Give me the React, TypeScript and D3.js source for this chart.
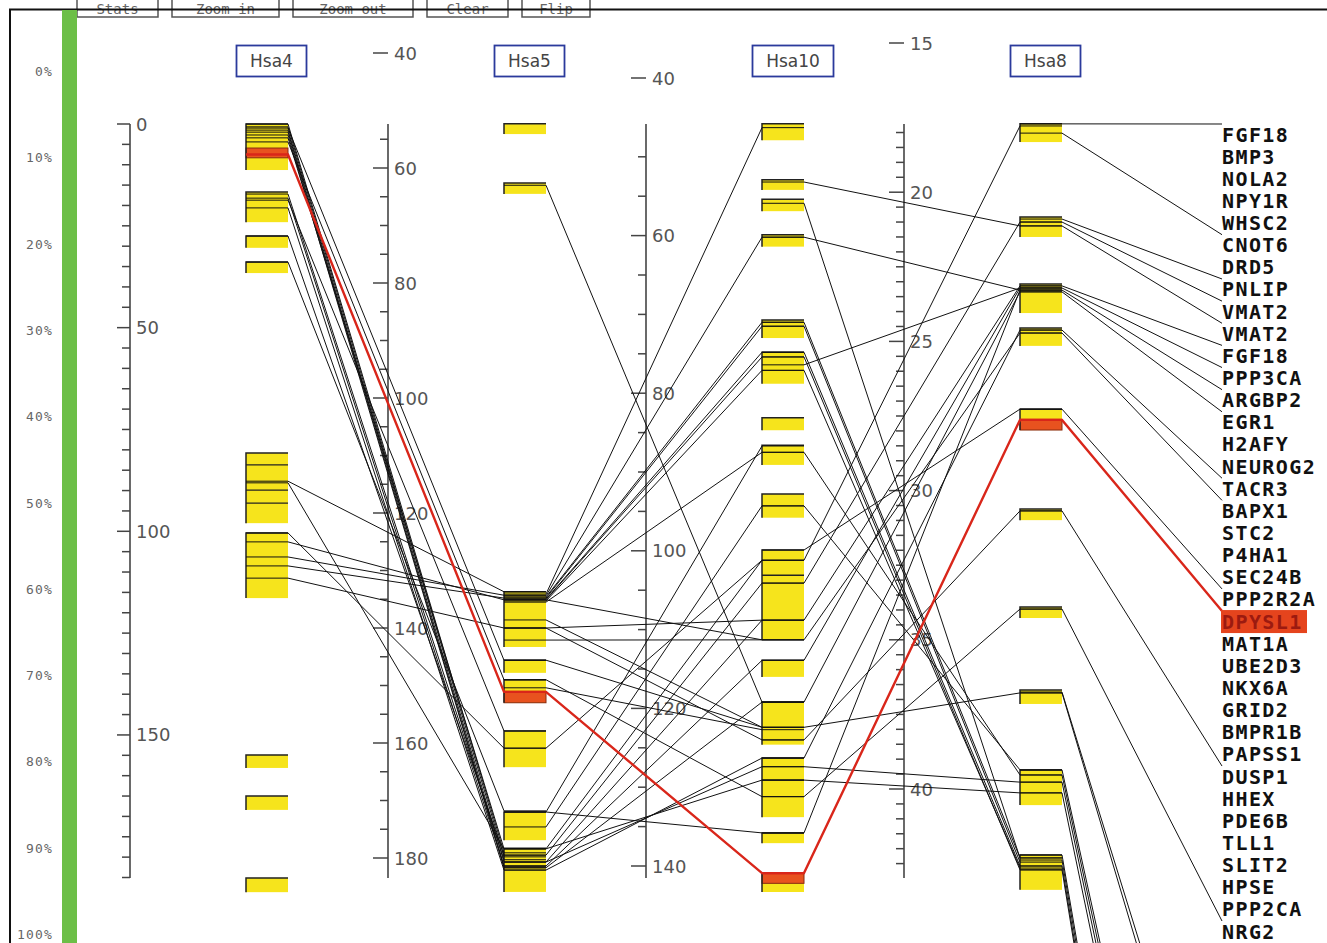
import React from "react";
import * as d3 from "d3";

// chromosomes shown left to right
const chromosomes = ["Hsa4", "Hsa5", "Hsa10", "Hsa8"];

// conserved segments on each chromosome (Mb, start-end)
const hsa4Blocks = [[0, 11.3], [16.7, 24.1], [27.5, 30.4], [33.9, 36.6], [80.8, 98.0], [100.4, 116.4], [154.9, 158.1], [165.0, 168.4], [185.1, 188.6]];
const hsa5Blocks = [[52.3, 54.1], [62.6, 64.5], [133.7, 143.3], [145.6, 147.8], [149.0, 153.0], [157.9, 164.2], [172.0, 176.9], [178.3, 185.9]];
const hsa10Blocks = [[45.8, 47.9], [52.9, 54.2], [55.4, 56.9], [59.9, 61.4], [70.7, 73.0], [74.8, 78.8], [83.1, 84.7], [86.6, 89.1], [92.8, 95.8], [99.9, 111.3], [113.9, 116.0], [119.2, 124.6], [126.3, 133.8], [135.8, 137.1], [140.9, 143.3]];
const hsa8Blocks = [[17.71, 18.32], [20.83, 21.5], [23.08, 24.05], [24.55, 25.15], [27.27, 27.97], [30.62, 30.99], [33.9, 34.27], [36.68, 37.15], [39.36, 40.54], [42.21, 43.38]];

// selected segment (DPYSL1) on each chromosome
const selectedBlocks = [[5.9, 8.3], [151.1, 153.0], [140.9, 142.2], [27.63, 27.97]];

// gene marks without visible links
const hsa4Marks = [83.7, 89.9, 93.1];
const hsa10Marks = [103.1, 129.1];

// orthologue links between neighbouring chromosomes (Mb -> Mb)
const links4to5 = [
  [0.0, 179.1], [0.7, 179.8], [1.0, 145.6], [1.5, 180.7], [2.0, 181.4], [2.7, 181.7],
  [3.4, 178.4], [4.4, 149.0], [17.2, 180.3], [18.2, 181.4], [18.7, 157.9], [20.6, 182.1],
  [27.5, 179.5], [33.9, 171.8], [87.7, 133.7], [88.1, 178.4], [100.4, 160.9],
  [102.6, 135.1], [106.3, 134.3], [108.5, 134.8], [111.5, 140.0],
];
const links5to10 = [
  [134.1, 46.3], [134.4, 60.2], [134.6, 71.0], [134.8, 71.5], [135.0, 74.8], [135.1, 75.4],
  [135.3, 77.1], [135.5, 87.5], [172.0, 86.7], [174.6, 94.3], [178.4, 101.2], [179.5, 104.1],
  [180.7, 108.8], [181.4, 113.9], [181.7, 119.2], [182.1, 126.3], [180.7, 127.4],
  [178.4, 129.1], [63.0, 119.2], [138.6, 122.4], [140.0, 124.0], [135.1, 111.3],
  [140.0, 108.8], [142.1, 111.3], [150.4, 122.7], [160.9, 101.2], [172.0, 135.8],
  [145.6, 122.4], [149.0, 131.2],
];
const links10to8 = [
  [53.2, 21.13], [55.9, 42.31], [60.2, 23.28], [71.0, 42.31], [71.5, 42.45], [74.8, 42.58],
  [75.4, 42.71], [76.4, 23.21], [77.1, 42.65], [87.5, 39.53], [94.3, 39.36], [101.2, 17.78],
  [104.1, 21.0], [108.8, 23.14], [113.9, 23.21], [119.2, 23.34], [122.4, 36.78],
  [127.4, 39.77], [129.1, 40.13], [126.3, 24.62], [111.3, 24.72], [99.9, 27.27],
  [124.0, 30.68], [131.2, 33.97], [135.8, 23.28],
];
// Hsa8 position -> gene label row (rows past 36 are below the visible area)
const links8toGene = [
  [17.71, 0], [18.02, 5], [20.9, 7], [21.0, 8], [21.13, 9], [23.14, 10], [23.21, 11],
  [23.28, 12], [23.34, 13], [24.62, 16], [24.72, 17], [27.27, 21], [30.68, 29], [33.97, 36],
  [36.75, 49], [36.78, 50], [39.36, 62], [39.53, 63], [39.77, 64], [40.13, 65],
  [42.21, 75], [42.38, 76], [42.58, 77], [42.71, 78],
];

// the highlighted gene path across all four chromosomes
const selectedPath = [7.5, 151.1, 140.9, 27.63];
const selectedRow = 22;

const geneNames = [
  "FGF18", "BMP3", "NOLA2", "NPY1R", "WHSC2", "CNOT6", "DRD5", "PNLIP", "VMAT2", "VMAT2",
  "FGF18", "PPP3CA", "ARGBP2", "EGR1", "H2AFY", "NEUROG2", "TACR3", "BAPX1", "STC2",
  "P4HA1", "SEC24B", "PPP2R2A", "DPYSL1", "MAT1A", "UBE2D3", "NKX6A", "GRID2", "BMPR1B",
  "PAPSS1", "DUSP1", "HHEX", "PDE6B", "TLL1", "SLIT2", "HPSE", "PPP2CA", "NRG2",
];

const percentTicks = [0, 10, 20, 30, 40, 50, 60, 70, 80, 90, 100];
const buttons = ["Stats", "Zoom in", "Zoom out", "Clear", "Flip"];

// axis settings per chromosome: minor step, labelled step, first / last tick
const axisSpecs = [
  { step: 5, major: 50, from: 0, to: 185 },
  { step: 5, major: 20, from: 40, to: 180 },
  { step: 5, major: 20, from: 40, to: 140 },
  { step: 0.5, major: 5, from: 15, to: 42.5 },
];

const W = 1327;
const H = 943;
const BLOCK_OFF = 116;
const BLOCK_W = 42;
const AXIS_TOP = 124;
const AXIS_BOTTOM = 878;
const LABEL_X = 1222;

const colX = d3.scaleLinear().domain([0, 3]).range([130, 904]);
const yScales = [
  d3.scaleLinear().domain([0, 185]).range([124, 877.5]),
  d3.scaleLinear().domain([40, 180]).range([53, 858]),
  d3.scaleLinear().domain([40, 140]).range([78, 866]),
  d3.scaleLinear().domain([15, 40]).range([43, 789]),
];
const rowY = d3.scaleLinear().domain([0, 36]).range([124, 921]);
const pctY = d3.scaleLinear().domain([0, 100]).range([71, 934]);

const blockSets = [hsa4Blocks, hsa5Blocks, hsa10Blocks, hsa8Blocks];
const markSets = [hsa4Marks, [], hsa10Marks, []];
const linkSets = [links4to5, links5to10, links10to8];

const bx = (c: number) => colX(c) + BLOCK_OFF;

const round = (v: number) => Math.round(v * 1000) / 1000;

function linkPath(c: number, a: number, b: number) {
  const y1 = yScales[c](a);
  const y2 = yScales[c + 1](b);
  const p = d3.path();
  p.moveTo(bx(c), y1);
  p.lineTo(bx(c) + BLOCK_W, y1);
  p.lineTo(bx(c + 1), y2);
  p.lineTo(bx(c + 1) + BLOCK_W, y2);
  return p.toString();
}

function genePath(a: number, row: number) {
  const y1 = yScales[3](a);
  const p = d3.path();
  p.moveTo(bx(3), y1);
  p.lineTo(bx(3) + BLOCK_W, y1);
  p.lineTo(LABEL_X, rowY(row));
  return p.toString();
}

function Axis({ c }: { c: number }) {
  const spec = axisSpecs[c];
  const y = yScales[c];
  const x = colX(c);
  const ticks = d3.range(spec.from, spec.to + spec.step / 2, spec.step).map(round);
  return (
    <g>
      <line x1={x} x2={x} y1={AXIS_TOP} y2={AXIS_BOTTOM} stroke="#444" strokeWidth={1.6} />
      {ticks.map((t) => {
        const isMajor = Math.abs(t / spec.major - Math.round(t / spec.major)) < 1e-6;
        const ty = y(t);
        if (!isMajor && (ty < AXIS_TOP - 1 || ty > AXIS_BOTTOM + 1)) return null;
        const len = isMajor ? (c === 0 ? 13 : 15) : 8;
        return (
          <g key={t}>
            <line x1={x - len} x2={x} y1={ty} y2={ty} stroke="#444" strokeWidth={1.5} />
            {isMajor && (
              <text x={x + 6} y={ty + 6.5} fontSize={18} fill="#555" fontFamily="DejaVu Sans">
                {t}
              </text>
            )}
          </g>
        );
      })}
    </g>
  );
}

export default function App() {
  let bxAcc = 77;
  const buttonRects = buttons.map((b) => {
    const w = b.length * 13 + 16;
    const r = { label: b, x: bxAcc, w };
    bxAcc += w + 14;
    return r;
  });

  return (
    <svg width={W} height={H} style={{ position: "absolute", left: 0, top: 0, background: "#fff" }}>
      {/* toolbar along the top edge */}
      {buttonRects.map((b) => (
        <g key={b.label}>
          <rect x={b.x} y={-12} width={b.w} height={29} fill="#fff" stroke="#555" strokeWidth={1.5} />
          <text x={b.x + b.w / 2} y={14} textAnchor="middle" fontSize={14} fill="#666" fontFamily="DejaVu Sans Mono">
            {b.label}
          </text>
        </g>
      ))}
      <path d={`M10,${H} V9.5 H${W}`} fill="none" stroke="#111" strokeWidth={2} />
      <rect x={62} y={10} width={15} height={H - 10} fill="#6cbf47" />

      {percentTicks.map((p) => (
        <text key={p} x={53} y={pctY(p) + 5} textAnchor="end" fontSize={13} letterSpacing={1.2} fill="#666" fontFamily="DejaVu Sans Mono">
          {p}%
        </text>
      ))}

      {chromosomes.map((_, c) => <Axis key={c} c={c} />)}

      {chromosomes.map((name, c) => {
        const w = 26 + name.length * 11;
        const x0 = bx(c) - 9.5;
        return (
          <g key={name}>
            <rect x={x0} y={45.5} width={w} height={31} fill="#fff" stroke="#2b3a9c" strokeWidth={1.8} />
            <text x={x0 + w / 2} y={67} textAnchor="middle" fontSize={17} fill="#444" fontFamily="DejaVu Sans">
              {name}
            </text>
          </g>
        );
      })}

      {/* segments */}
      {blockSets.map((blocks, c) =>
        blocks.map(([s, e], i) => (
          <rect key={`b${c}-${i}`} x={bx(c)} y={yScales[c](s)} width={BLOCK_W} height={yScales[c](e) - yScales[c](s)} fill="#f6e41c" />
        ))
      )}
      {selectedBlocks.map(([s, e], c) => (
        <rect key={`s${c}`} x={bx(c)} y={yScales[c](s)} width={BLOCK_W} height={yScales[c](e) - yScales[c](s)} fill="#e8521f" stroke="#8a2c10" strokeWidth={1} />
      ))}
      {blockSets.map((blocks, c) =>
        blocks.map(([s, e], i) => (
          <path
            key={`e${c}-${i}`}
            d={`M${bx(c)},${yScales[c](e)} V${yScales[c](s)} H${bx(c) + BLOCK_W}`}
            fill="none"
            stroke="#222"
            strokeWidth={1.5}
          />
        ))
      )}
      {markSets.map((marks, c) =>
        marks.map((m) => (
          <line key={`m${c}-${m}`} x1={bx(c)} x2={bx(c) + BLOCK_W} y1={yScales[c](m)} y2={yScales[c](m)} stroke="#222" strokeWidth={1.3} />
        ))
      )}

      {/* links */}
      <g fill="none" stroke="#111" strokeWidth={1}>
        {linkSets.map((links, c) =>
          links.map(([a, b], i) => <path key={`l${c}-${i}`} d={linkPath(c, a, b)} />)
        )}
        {links8toGene.map(([a, r], i) => (
          <path key={`g${i}`} d={genePath(a, r)} />
        ))}
      </g>

      {/* selected gene */}
      <g fill="none" stroke="#d9261a" strokeWidth={2.4}>
        {[0, 1, 2].map((c) => (
          <path key={c} d={linkPath(c, selectedPath[c], selectedPath[c + 1])} />
        ))}
        <path d={genePath(selectedPath[3], selectedRow)} />
      </g>

      {/* gene labels */}
      <rect x={LABEL_X - 1} y={rowY(selectedRow) - 1} width={86} height={23} fill="#e5441d" />
      {geneNames.map((g, i) => (
        <text
          key={i}
          x={LABEL_X}
          y={rowY(i) + 17.5}
          fontSize={20}
          fontWeight="bold"
          letterSpacing={1.4}
          fill={i === selectedRow ? "#9c1a10" : "#111"}
          fontFamily="DejaVu Sans Mono"
        >
          {g}
        </text>
      ))}
    </svg>
  );
}
